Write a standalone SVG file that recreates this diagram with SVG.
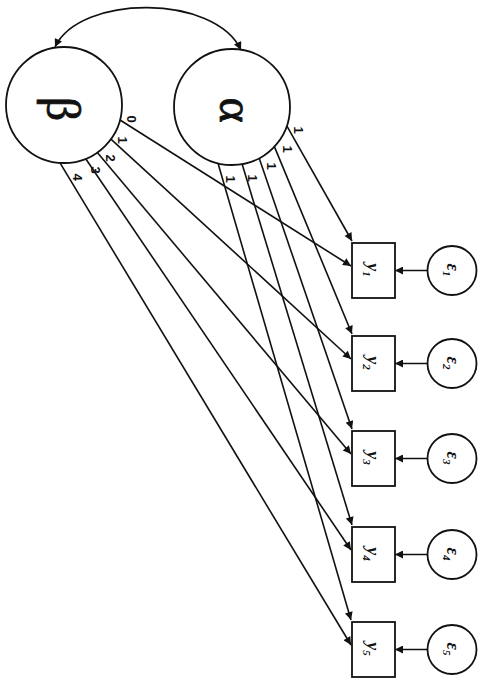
<svg xmlns="http://www.w3.org/2000/svg" width="480" height="679" viewBox="0 0 480 679">
<style>
.node{fill:none;stroke:#111;stroke-width:1.8}
.box{fill:#fff;stroke:#111;stroke-width:1.8}
.edge{fill:none;stroke:#111;stroke-width:1.6}
.big{font-family:"Liberation Serif",serif;font-size:48px;fill:#111;stroke:#111;stroke-width:0.8;text-anchor:middle}
.lab{font-family:"Liberation Serif",serif;font-style:italic;font-weight:bold;font-size:18px;fill:#111;text-anchor:middle}
.sub{font-size:11px}
.coef{font-family:"Liberation Sans",sans-serif;font-weight:bold;font-size:13px;fill:#111;text-anchor:middle;dominant-baseline:central}
</style>
<defs>
<marker id="ah" viewBox="0 0 10 10" refX="10" refY="5" markerWidth="10" markerHeight="8" markerUnits="userSpaceOnUse" orient="auto">
<path d="M0,0 L10,5 L0,10 z" fill="#111"/>
</marker>
<marker id="ahs" viewBox="0 0 10 10" refX="10" refY="5" markerWidth="10" markerHeight="8" markerUnits="userSpaceOnUse" orient="auto-start-reverse">
<path d="M0,0 L10,5 L0,10 z" fill="#111"/>
</marker>
</defs>
<rect width="480" height="679" fill="#fff"/>

<g id="connectors">
<path class="edge" d="M55,47 C80,-6 215,-6 241,50" marker-start="url(#ahs)" marker-end="url(#ah)"/>
<line class="edge" x1="286.8" y1="125.9" x2="352" y2="241" marker-end="url(#ah)"/>
<line class="edge" x1="274.4" y1="146.6" x2="352" y2="334" marker-end="url(#ah)"/>
<line class="edge" x1="259.2" y1="158.2" x2="352" y2="429" marker-end="url(#ah)"/>
<line class="edge" x1="242.1" y1="164.1" x2="352" y2="525" marker-end="url(#ah)"/>
<line class="edge" x1="218" y1="163.3" x2="351" y2="620" marker-end="url(#ah)"/>
<line class="edge" x1="120" y1="120" x2="351" y2="266" marker-end="url(#ah)"/>
<line class="edge" x1="110.9" y1="139.1" x2="351" y2="359" marker-end="url(#ah)"/>
<line class="edge" x1="97.3" y1="152.5" x2="351" y2="454" marker-end="url(#ah)"/>
<line class="edge" x1="85.7" y1="158.8" x2="351" y2="550" marker-end="url(#ah)"/>
<line class="edge" x1="60" y1="162.9" x2="351" y2="645" marker-end="url(#ah)"/>
<line class="edge" x1="427.5" y1="270.5" x2="395" y2="270.5" marker-end="url(#ah)"/>
<line class="edge" x1="427.5" y1="363.5" x2="395" y2="363.5" marker-end="url(#ah)"/>
<line class="edge" x1="427.5" y1="458.5" x2="395" y2="458.5" marker-end="url(#ah)"/>
<line class="edge" x1="427.5" y1="554.5" x2="395" y2="554.5" marker-end="url(#ah)"/>
<line class="edge" x1="427.5" y1="649.5" x2="395" y2="649.5" marker-end="url(#ah)"/>
<text class="coef" transform="translate(298,130) rotate(90)">1</text>
<text class="coef" transform="translate(287,149) rotate(90)">1</text>
<text class="coef" transform="translate(271,166) rotate(90)">1</text>
<text class="coef" transform="translate(252,178) rotate(90)">1</text>
<text class="coef" transform="translate(230,179) rotate(90)">1</text>
<text class="coef" transform="translate(131,119) rotate(90)">0</text>
<text class="coef" transform="translate(122,140) rotate(90)">1</text>
<text class="coef" transform="translate(110,158) rotate(90)">2</text>
<text class="coef" transform="translate(95,170) rotate(90)">3</text>
<text class="coef" transform="translate(77,177) rotate(90)">4</text>
</g>

<g id="beta">
<circle class="node" cx="64" cy="105" r="58"/>
<text class="big" transform="translate(47,109) rotate(90)">β</text>
</g>
<g id="alpha">
<circle class="node" cx="232" cy="107" r="58"/>
<text class="big" transform="translate(220,110) rotate(90)">α</text>
</g>

<g id="y1"><rect class="box" x="352" y="243" width="43" height="55"/>
<text class="lab" transform="translate(367,270) rotate(90)">y<tspan class="sub" dy="4">1</tspan></text></g>
<g id="y2"><rect class="box" x="352" y="336" width="43" height="55"/>
<text class="lab" transform="translate(367,363) rotate(90)">y<tspan class="sub" dy="4">2</tspan></text></g>
<g id="y3"><rect class="box" x="352" y="431" width="43" height="55"/>
<text class="lab" transform="translate(367,458) rotate(90)">y<tspan class="sub" dy="4">3</tspan></text></g>
<g id="y4"><rect class="box" x="352" y="527" width="43" height="55"/>
<text class="lab" transform="translate(367,554) rotate(90)">y<tspan class="sub" dy="4">4</tspan></text></g>
<g id="y5"><rect class="box" x="352" y="622" width="43" height="55"/>
<text class="lab" transform="translate(367,649) rotate(90)">y<tspan class="sub" dy="4">5</tspan></text></g>

<g id="e1"><circle class="node" cx="452" cy="270.5" r="24.5"/>
<text class="lab" transform="translate(447,270) rotate(90)">ε<tspan class="sub" dy="4">1</tspan></text></g>
<g id="e2"><circle class="node" cx="452" cy="363.5" r="24.5"/>
<text class="lab" transform="translate(447,363) rotate(90)">ε<tspan class="sub" dy="4">2</tspan></text></g>
<g id="e3"><circle class="node" cx="452" cy="458.5" r="24.5"/>
<text class="lab" transform="translate(447,458) rotate(90)">ε<tspan class="sub" dy="4">3</tspan></text></g>
<g id="e4"><circle class="node" cx="452" cy="554.5" r="24.5"/>
<text class="lab" transform="translate(447,554) rotate(90)">ε<tspan class="sub" dy="4">4</tspan></text></g>
<g id="e5"><circle class="node" cx="452" cy="649.5" r="24.5"/>
<text class="lab" transform="translate(447,649) rotate(90)">ε<tspan class="sub" dy="4">5</tspan></text></g>
</svg>
